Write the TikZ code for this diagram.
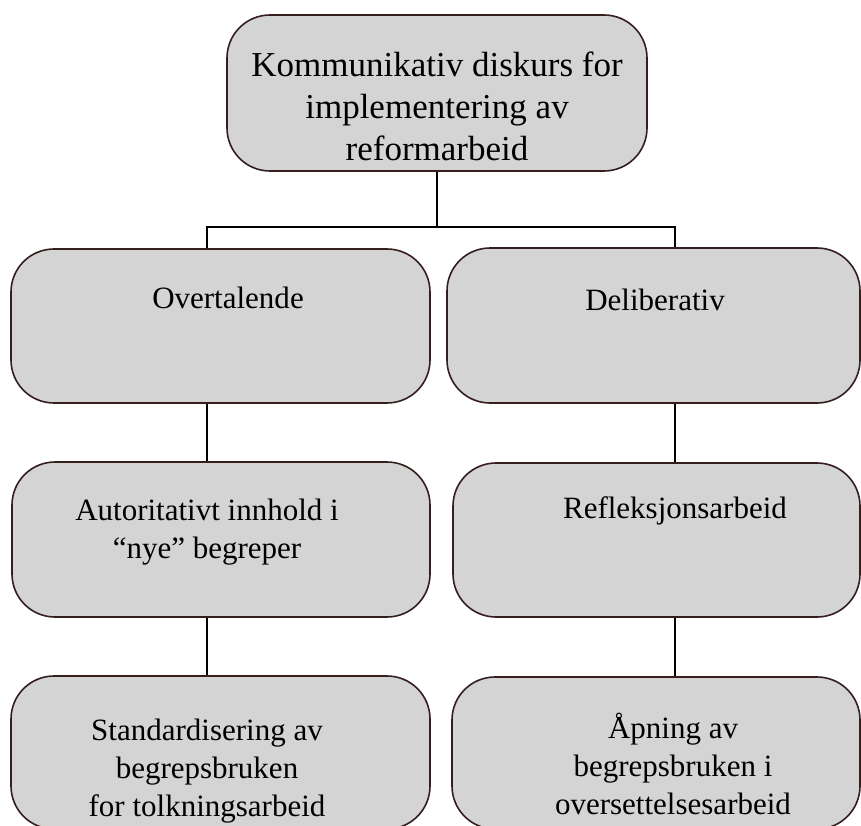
\documentclass[tikz,border=0pt]{standalone}
\usepackage{fontspec}
\setmainfont{Liberation Serif}
\usetikzlibrary{positioning}
\definecolor{boxfill}{RGB}{212,212,212}
\definecolor{boxline}{RGB}{52,30,30}
\begin{document}
\begin{tikzpicture}[x=1pt, y=1pt]
\tikzstyle{kb}=[draw=boxline, fill=boxfill, line width=1.6pt, rounded corners=43pt, inner sep=0pt]
\tikzstyle{kt}=[anchor=base, align=center, inner sep=0pt, font=\fontsize{31}{38}\selectfont]
\tikzstyle{kl}=[line width=1.6pt, black]
\clip (0,0) rectangle (861,-826);
\node[kb, minimum width=420pt, minimum height=156pt] (top) at (437,-93) {};
\node[kb, minimum width=419pt, minimum height=154pt] (ov) at (220.5,-326) {};
\node[kb, minimum width=413pt, minimum height=155pt] (de) at (653.5,-325.5) {};
\node[kb, minimum width=418pt, minimum height=155pt] (au) at (221,-539.5) {};
\node[kb, minimum width=407pt, minimum height=154pt] (re) at (656.5,-540) {};
\node[kb, minimum width=419pt, minimum height=153pt] (st) at (220.5,-752.5) {};
\node[kb, minimum width=408pt, minimum height=152pt] (ap) at (656,-753) {};
\node[kt, font=\fontsize{35}{42}\selectfont] (ttop) at (437,-161) {Kommunikativ diskurs for\\implementering av\\reformarbeid};
\node[kt] (tov) at (228,-308) {Overtalende};
\node[kt] (tde) at (655,-310) {Deliberativ};
\node[kt] (tau) at (207,-558) {Autoritativt innhold i\\“nye” begreper};
\node[kt] (tre) at (675,-518) {Refleksjonsarbeid};
\node[kt] (tst) at (207,-816) {Standardisering av\\begrepsbruken\\for tolkningsarbeid};
\node[kt] (tap) at (673,-814) {Åpning av\\begrepsbruken i\\oversettelsesarbeid};
\coordinate (hub) at (437,-227);
\coordinate (lc) at (207,0);
\coordinate (rc) at (675,0);
\draw[kl] (top) -- (hub);
\draw[kl] (ov.north -| lc) |- (hub) -| (de.north -| rc);
\draw[kl] (ov.south -| lc) -- (au.north -| lc);
\draw[kl] (au.south -| lc) -- (st.north -| lc);
\draw[kl] (de.south -| rc) -- (re.north -| rc);
\draw[kl] (re.south -| rc) -- (ap.north -| rc);
\end{tikzpicture}
\end{document}
